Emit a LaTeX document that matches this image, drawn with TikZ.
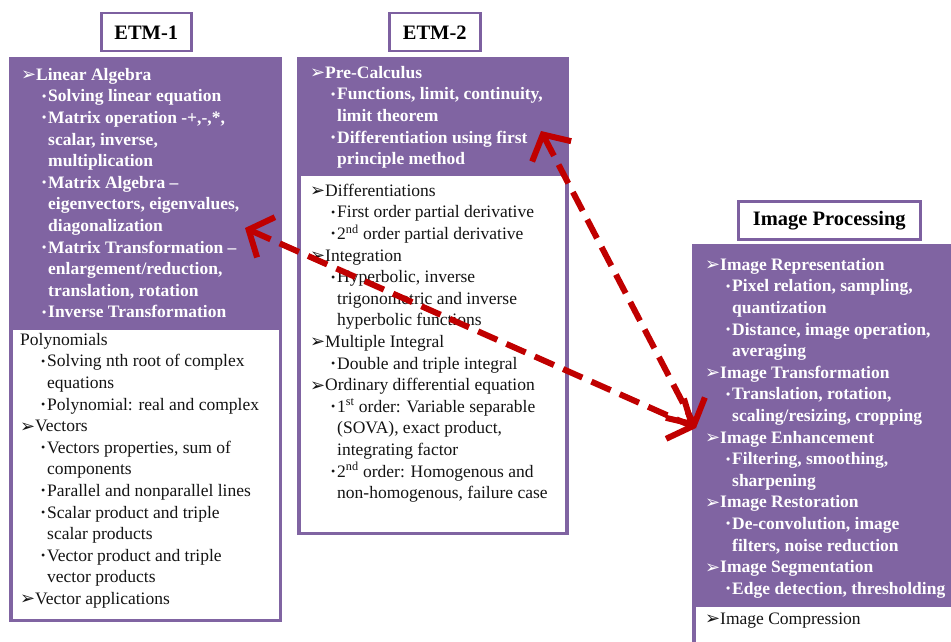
\documentclass[tikz,border=0pt]{standalone}
\usepackage{fontspec}
\setmainfont{Liberation Serif}
\newfontfamily\dingfont{DejaVu Sans}
\usetikzlibrary{arrows.meta}

\definecolor{boxpurple}{HTML}{8064A2}
\definecolor{edgepurple}{HTML}{7D60A0}
\definecolor{arrowred}{HTML}{C00000}
\definecolor{inktext}{HTML}{141414}

% list helpers: heading with arrowhead, bullet item, continuation line
\newcommand\lvone[1]{\makebox[15pt][l]{\raisebox{-0.5pt}{\dingfont\fontsize{18}{18}\selectfont ➢}}#1}
\newcommand\lvtwo[1]{\hspace*{21pt}\makebox[6pt][l]{\raisebox{1.5pt}{\fontsize{12}{12}\selectfont •}}#1}
\newcommand\lvcont[1]{\hspace*{27pt}#1}
\newcommand\firstline{\rule{0pt}{16pt}}

\tikzset{
  panel/.style={fill=boxpurple, draw=none, inner sep=0pt, anchor=north west},
  lowerpart/.style={fill=white, draw=none, inner sep=0pt, anchor=north west},
  titlebox/.style={fill=white, draw=edgepurple, line width=2.5pt, inner sep=0pt,
    anchor=north west, font=\fontsize{20.5}{20.5}\selectfont\bfseries, text=black},
  lighttext/.style={anchor=north west, inner sep=0pt, align=left, text=white,
    font=\fontsize{17.5}{21.6}\selectfont\bfseries},
  darktext/.style={anchor=north west, inner sep=0pt, align=left, text=inktext,
    font=\fontsize{17.5}{21.6}\selectfont},
  link/.style={draw=arrowred, line width=6pt, dash pattern=on 21pt off 10pt,
    {Straight Barb[length=19pt, width=44pt]}-{Straight Barb[length=19pt, width=44pt]}}
}

\begin{document}
\begin{tikzpicture}[x=1pt, y=-1pt]
\useasboundingbox (0,0) rectangle (951,642);

% ---------- ETM-1 ----------
\node[titlebox, minimum width=90pt, minimum height=38pt] (t1) at (100,12) {ETM-1};
\node[panel, minimum width=273pt, minimum height=565pt] (p1) at (9,57) {};
\node[lowerpart, minimum width=266pt, minimum height=289pt] (w1) at (12.5,329.5) {};
\node[lighttext] (p1txt) at (21,64) {\firstline\lvone{Linear Algebra}\\
\lvtwo{Solving linear equation}\\
\lvtwo{Matrix operation -+,-,*,}\\
\lvcont{scalar, inverse,}\\
\lvcont{multiplication}\\
\lvtwo{Matrix Algebra –}\\
\lvcont{eigenvectors, eigenvalues,}\\
\lvcont{diagonalization}\\
\lvtwo{Matrix Transformation –}\\
\lvcont{enlargement/reduction,}\\
\lvcont{translation, rotation}\\
\lvtwo{Inverse Transformation}};
\node[darktext] (w1txt) at (20,329) {\firstline Polynomials\\
\lvtwo{Solving nth root of complex}\\
\lvcont{equations}\\
\lvtwo{Polynomial: real and complex}\\
\lvone{Vectors}\\
\lvtwo{Vectors properties, sum of}\\
\lvcont{components}\\
\lvtwo{Parallel and nonparallel lines}\\
\lvtwo{Scalar product and triple}\\
\lvcont{scalar products}\\
\lvtwo{Vector product and triple}\\
\lvcont{vector products}\\
\lvone{Vector applications}};

% ---------- ETM-2 ----------
\node[titlebox, minimum width=91pt, minimum height=38pt] (t2) at (388,12) {ETM-2};
\node[panel, minimum width=272pt, minimum height=478pt] (p2) at (297,57) {};
\node[lowerpart, minimum width=264.5pt, minimum height=355.5pt] (w2) at (300.5,176) {};
\node[lighttext] (p2txt) at (310,62) {\firstline\lvone{Pre-Calculus}\\
\lvtwo{Functions, limit, continuity,}\\
\lvcont{limit theorem}\\
\lvtwo{Differentiation using first}\\
\lvcont{principle method}};
\node[darktext] (w2txt) at (310,180) {\firstline\lvone{Differentiations}\\
\lvtwo{First order partial derivative}\\
\lvtwo{2\textsuperscript{nd} order partial derivative}\\
\lvone{Integration}\\
\lvtwo{Hyperbolic, inverse}\\
\lvcont{trigonometric and inverse}\\
\lvcont{hyperbolic functions}\\
\lvone{Multiple Integral}\\
\lvtwo{Double and triple integral}\\
\lvone{Ordinary differential equation}\\
\lvtwo{1\textsuperscript{st} order: Variable separable}\\
\lvcont{(SOVA), exact product,}\\
\lvcont{integrating factor}\\
\lvtwo{2\textsuperscript{nd} order: Homogenous and}\\
\lvcont{non-homogenous, failure case}};

% ---------- Image Processing ----------
\node[titlebox, minimum width=182pt, minimum height=38pt] (t3) at (737,200) {Image Processing};
\node[panel, minimum width=265pt, minimum height=405pt] (p3) at (692,244) {};
\node[lowerpart, minimum width=260pt, minimum height=40pt] (w3) at (696,607) {};
\node[lighttext] (p3txt) at (705,254) {\firstline\lvone{Image Representation}\\
\lvtwo{Pixel relation, sampling,}\\
\lvcont{quantization}\\
\lvtwo{Distance, image operation,}\\
\lvcont{averaging}\\
\lvone{Image Transformation}\\
\lvtwo{Translation, rotation,}\\
\lvcont{scaling/resizing, cropping}\\
\lvone{Image Enhancement}\\
\lvtwo{Filtering, smoothing,}\\
\lvcont{sharpening}\\
\lvone{Image Restoration}\\
\lvtwo{De-convolution, image}\\
\lvcont{filters, noise reduction}\\
\lvone{Image Segmentation}\\
\lvtwo{Edge detection, thresholding}};
\node[darktext] (w3txt) at (705,608) {\firstline\lvone{Image Compression}};

% ---------- links ----------
\coordinate (endA) at (245,228);
\coordinate (endB) at (541,131);
\coordinate (endIP) at (696,428);
\draw[link] (endA) -- (endIP);
\draw[link] (endB) -- (endIP);
\end{tikzpicture}
\end{document}
